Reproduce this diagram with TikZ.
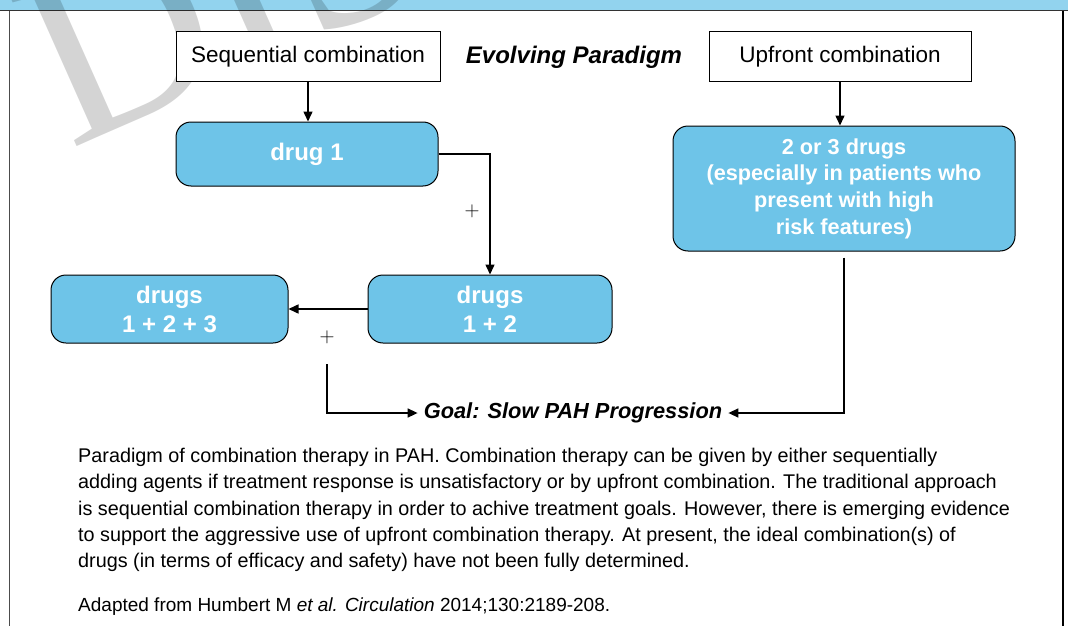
\documentclass[tikz,border=0pt]{standalone}
\usepackage{fontspec}
\setmainfont{Liberation Sans}
\newfontfamily\wmfont{Liberation Serif}
\usetikzlibrary{arrows.meta}
\definecolor{drugblue}{HTML}{6EC4E8}
\definecolor{bandblue}{HTML}{92D3EE}
\tikzset{
	headbox/.style={draw,line width=1pt,fill=white,minimum width=#1,minimum height=49pt,inner sep=0pt,font=\fontsize{22.5}{26}\selectfont},
	drugbox/.style 2 args={draw=black,line width=1pt,fill=drugblue,rounded corners=15pt,minimum width=#1,minimum height=#2,text=white,align=center,font=\bfseries\fontsize{24}{29}\selectfont},
	plusmark/.style={font=\fontsize{22}{24}\selectfont,inner sep=0pt},
	flow/.style={line width=1.5pt,-{Triangle[length=10pt,width=9pt]}}
}

\begin{document}
\begin{tikzpicture}[x=1pt,y=-1pt]
	\useasboundingbox (0,0) rectangle (1068,626);
	\fill[bandblue] (0,0) rectangle (1068,11);
	\draw[line width=1pt,black!80] (0,11) -- (1068,11);
	% watermark
	\begin{scope}
		\clip (0,0) rectangle (1068,626);
		\node[font=\wmfont\fontsize{250}{250}\selectfont,text=black,opacity=.17,rotate=24,anchor=base west,inner sep=0pt] (wm) at (70,150) {DIS};
	\end{scope}
	% frame
	\draw[line width=1pt,black!70] (9,11) -- (9,626);
	\draw[line width=2pt] (1063,11) -- (1063,626);

	\node[headbox=264pt] (seq) at (308,56.5) {Sequential combination};
	\node[font=\bfseries\itshape\fontsize{24}{28}\selectfont] (evo) at (574,57) {Evolving Paradigm};
	\node[headbox=262pt] (upf) at (840,56.5) {Upfront combination};

	\node[drugbox={262pt}{64pt}] (d1) at (307,154) {drug 1};
	\node[drugbox={244pt}{68pt}] (d12) at (490,309) {drugs\\1 + 2};
	\node[drugbox={237pt}{68pt}] (d123) at (169.5,309) {drugs\\1 + 2 + 3};
	\node[drugbox={342pt}{125pt},font=\bfseries\fontsize{21.7}{26.7}\selectfont] (multi) at (844,188.5) {2 or 3 drugs\\(especially in patients who\\present with high\\risk features)};

	\node[font=\bfseries\itshape\fontsize{21.8}{26}\selectfont,inner xsep=6pt] (goal) at (573,413) {Goal: Slow PAH Progression};
	\node[plusmark] (p1) at (472,211) {$+$};
	\node[plusmark] (p2) at (327,337) {$+$};
	\coordinate (gs) at (327,364);

	\draw[flow] (seq.south) -- (seq.south |- d1.north);
	\draw[flow] (d1.east) -| (d12.north);
	\draw[flow] (d12.west) -- (d123.east);
	\draw[flow] (upf.south) -- (upf.south |- multi.north);
	\draw[flow] (gs) |- (goal.west);
	\draw[flow,shorten <=6pt] (multi.south) |- (goal.east);

	% caption
	\node[anchor=north west,inner sep=0pt,align=left,font=\fontsize{19.8}{26.3}\selectfont] (cap) at (78,448) {Paradigm of combination therapy in PAH. Combination therapy can be given by either sequentially\\
	adding agents if treatment response is unsatisfactory or by upfront combination. The traditional approach\\
	is sequential combination therapy in order to achive treatment goals. However, there is emerging evidence\\
	to support the aggressive use of upfront combination therapy. At present, the ideal combination(s) of\\
	drugs (in terms of efficacy and safety) have not been fully determined.};
	\node[anchor=north west,inner sep=0pt,font=\fontsize{19}{22}\selectfont] (src) at (78,598) {Adapted from Humbert M \textit{et al. Circulation} 2014;130:2189-208.};
\end{tikzpicture}
\end{document}
